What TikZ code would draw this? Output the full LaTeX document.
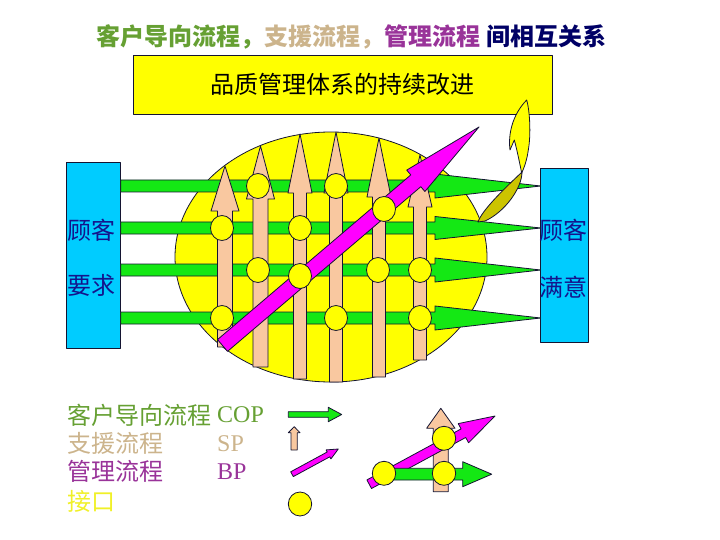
\documentclass[tikz,border=0pt]{standalone}
\usepackage{fontspec}
\setmainfont{Liberation Serif}
\newfontfamily\cjk{Noto Sans CJK SC}
\definecolor{cgreen}{RGB}{20,232,20}
\definecolor{ctan}{RGB}{249,200,160}
\definecolor{cmag}{RGB}{255,0,255}
\definecolor{cyellow}{RGB}{255,255,0}
\definecolor{cblue}{RGB}{0,204,255}
\definecolor{colive}{RGB}{204,196,0}
\definecolor{linec}{RGB}{20,20,50}
\definecolor{tgreen}{RGB}{102,160,51}
\definecolor{ttan}{RGB}{204,180,140}
\definecolor{tpurple}{RGB}{153,51,153}
\definecolor{tnavy}{RGB}{0,0,102}
\definecolor{tblue}{RGB}{20,20,140}
\definecolor{tyellow}{RGB}{240,240,40}
\begin{document}
\begin{tikzpicture}[x=1pt,y=-1pt,line join=round,
  outl/.style={draw=linec,line width=0.8pt},
  cjktext/.style={inner sep=0pt,font=\cjk\fontsize{24}{28}\selectfont},
  latext/.style={inner sep=0pt,font=\fontsize{24}{28}\selectfont},
  bluebox/.style={outl,fill=cblue,inner sep=0pt}]
\useasboundingbox (0,0) rectangle (720,540);

% title
\node[cjktext,font=\cjk\bfseries\fontsize{24}{28}\selectfont] (title) at (351.5,37)
  {\color{tgreen}客户导向流程，\color{ttan}支援流程，\color{tpurple}管理流程 \color{tnavy}间相互关系};

% improvement box
\node[outl,fill=cyellow,minimum width=419pt,minimum height=59pt,inner sep=0pt,
  font=\cjk\fontsize{24}{28}\selectfont] (improve) at (342.5,84.5) {品质管理体系的持续改进};

% process circle
\draw[outl,fill=cyellow] (331,257) ellipse [x radius=156,y radius=125];

% customer boxes
\node[bluebox,minimum width=54pt,minimum height=185.6pt] (lbox) at (93.7,255.5) {};
\node[bluebox,minimum width=47.6pt,minimum height=174.4pt] (rbox) at (564.5,255.5) {};
\node[cjktext,text=tblue] (lt1) at (91.7,230) {顾客};
\node[cjktext,text=tblue] (lt2) at (91.7,285) {要求};
\node[cjktext,text=tblue] (rt1) at (563.5,230) {顾客};
\node[cjktext,text=tblue] (rt2) at (563.5,287) {满意};

% COP arrows
\foreach \yy/\hh in {186/12,228/11.5,270/12,318/12}{
  \draw[outl,fill=cgreen] (120.7,\yy-6) -- (435,\yy-6) -- (435,\yy-\hh) -- (540.7,\yy)
    -- (435,\yy+\hh) -- (435,\yy+6) -- (120.7,\yy+6) -- cycle;
}

% SP arrows
\foreach \x/\t/\b/\e/\hw/\sw in {225/166/211/347/14/7.5,260.5/146/199/367/14/7.5,
    300/134/193/379/12/6.5,336/132/193/382/12/6.5,379/138/197/377/12/6.5,420/155/207/360/12/6.5}{
  \draw[outl,fill=ctan] ({\x-\sw},\e) -- ({\x-\sw},\b) -- ({\x-\hw},\b) -- (\x,\t)
    -- ({\x+\hw},\b) -- ({\x+\sw},\b) -- ({\x+\sw},\e) -- cycle;
}

% BP arrow
\draw[outl,fill=cmag] (227.5,351.4) -- (420.8,186.7) -- (424.9,191.5) -- (479,127)
  -- (406.7,170.1) -- (410.8,174.9) -- (217.5,339.6) -- cycle;

% interfaces
\foreach \cx/\cy in {258/186,336/186,222/228,300/228,384/209,258/270,300/276,
    378/270,420/270,222/318,336/318,420/318}{
  \draw[outl,fill=cyellow] (\cx,\cy) ellipse [x radius=11.5,y radius=12.5];
}

% curved improvement arrow
\draw[outl,fill=colive] (522,172) .. controls (522,188) and (505,212) .. (485,221)
  -- (478,222) .. controls (482,210) and (505,188) .. (522,172) -- cycle;
\draw[outl,fill=cyellow] (526.7,100) .. controls (530,112) and (531,135) .. (528.3,150)
  .. controls (527,160) and (524,168) .. (521.7,173)
  .. controls (519,160) and (517,150) .. (514.3,140) -- (510,150)
  .. controls (508,135) and (512,115) .. (526.7,100) -- cycle;

% legend texts
\node[cjktext,anchor=west,text=tgreen] (l1) at (67,415) {客户导向流程};
\node[latext,anchor=west,text=tgreen] (l1b) at (217,415) {COP};
\node[cjktext,anchor=west,text=ttan] (l2) at (67,443.3) {支援流程};
\node[latext,anchor=west,text=ttan] (l2b) at (217,443.3) {SP};
\node[cjktext,anchor=west,text=tpurple] (l3) at (67,471.7) {管理流程};
\node[latext,anchor=west,text=tpurple] (l3b) at (217,471.7) {BP};
\node[cjktext,anchor=west,text=tyellow] (l4) at (67,501.7) {接口};

% legend symbols
\draw[outl,fill=cgreen] (288.3,411.7) -- (328.3,411.7) -- (328.3,407.3) -- (341.7,414.5)
  -- (328.3,421.7) -- (328.3,417.3) -- (288.3,417.3) -- cycle;
\draw[outl,fill=ctan] (291,450) -- (291,432.7) -- (288.3,432.7) -- (294.2,426.7)
  -- (300,432.7) -- (297.3,432.7) -- (297.3,450) -- cycle;
\draw[outl,fill=cmag] (293.3,476.6) -- (329.8,456.8) -- (330.9,458.9) -- (338.3,449)
  -- (326.1,449.9) -- (327.2,452.0) -- (290.7,471.8) -- cycle;
\draw[outl,fill=cyellow] (300,504) ellipse [x radius=11.7,y radius=12];

% legend combination
\draw[outl,fill=ctan] (433.3,491.7) -- (433.3,428.3) -- (426.6,428.3) -- (440.8,408.3)
  -- (455,428.3) -- (448.3,428.3) -- (448.3,491.7) -- cycle;
\draw[outl,fill=cmag] (371.5,488.5) -- (465.7,437.5) -- (468.6,442.8) -- (495,416)
  -- (458.2,423.6) -- (461.1,428.9) -- (366.9,479.9) -- cycle;
\draw[outl,fill=cgreen] (384,468.3) -- (462.7,468.3) -- (462.7,461.7) -- (491.7,474.2)
  -- (462.7,486.7) -- (462.7,480) -- (384,480) -- cycle;
\foreach \cx/\cy in {384/473.3,444/438.3,444/473.3}{
  \draw[outl,fill=cyellow] (\cx,\cy) ellipse [x radius=11.7,y radius=12];
}
\end{tikzpicture}
\end{document}
